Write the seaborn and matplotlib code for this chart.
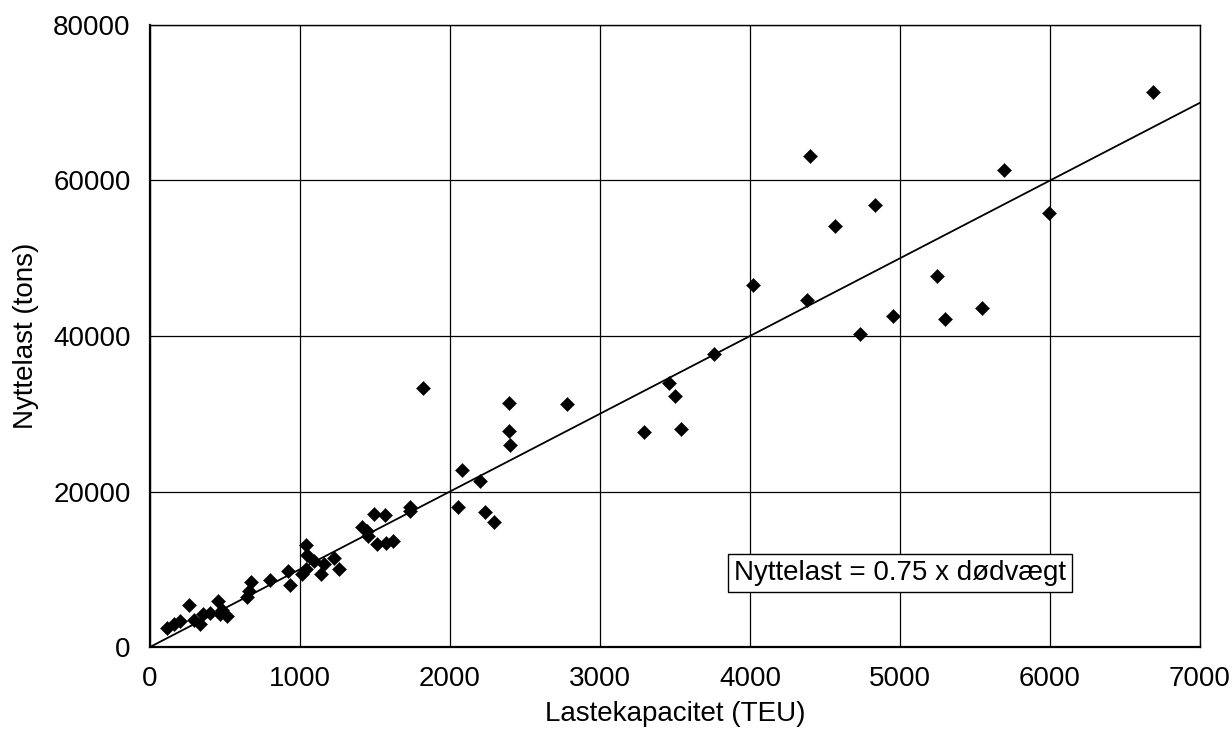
import numpy as np
import pandas as pd
import matplotlib
matplotlib.use("Agg")
import matplotlib.pyplot as plt
import seaborn as sns

# ship data
teu = [110, 160, 200, 260, 290, 330, 355, 400, 455, 465, 480, 515,
       645, 660, 670, 800, 920, 930, 1010, 1040, 1040, 1045, 1090, 1140,
       1160, 1225, 1260, 1410, 1445, 1450, 1490, 1510, 1565, 1570, 1620,
       1730, 1735, 1820, 2055, 2080, 2200, 2230, 2295, 2390, 2390, 2400,
       2780, 3295, 3460, 3500, 3540, 3760, 4020, 4380, 4400, 4565, 4735,
       4830, 4955, 5245, 5300, 5545, 5695, 5995, 6685]
payload = [2400, 2900, 3400, 5400, 3500, 3000, 4300, 4400, 5900, 4300, 4700, 4000,
           6400, 7200, 8400, 8600, 9800, 8000, 9400, 10000, 13100, 11800, 11100, 9400,
           10700, 11500, 10000, 15400, 14900, 14300, 17100, 13200, 17000, 13400, 13600,
           17500, 18000, 33300, 18000, 22800, 21300, 17400, 16100, 31400, 27800, 26000,
           31300, 27600, 34000, 32300, 28000, 37700, 46500, 44600, 63200, 54100, 40300,
           56800, 42600, 47700, 42200, 43600, 61300, 55800, 71400]

# trend line
line_x = [0, 7000]
line_y = [0, 70000]

x_ticks = [0, 1000, 2000, 3000, 4000, 5000, 6000, 7000]
y_ticks = [0, 20000, 40000, 60000, 80000]

df = pd.DataFrame({'teu': teu, 'payload': payload})

sns.set_style("white")
plt.rcParams['font.family'] = ['Liberation Sans', 'DejaVu Sans']
plt.rcParams['text.color'] = 'black'
plt.rcParams['axes.labelcolor'] = 'black'
plt.rcParams['xtick.color'] = 'black'
plt.rcParams['ytick.color'] = 'black'

fig = plt.figure(figsize=(12.32, 7.45), dpi=100)
ax = fig.add_axes([150 / 1232, 98 / 745, 1050 / 1232, 622 / 745])

sns.lineplot(x=line_x, y=line_y, ax=ax, color='black', linewidth=1.3, zorder=3)
sns.scatterplot(data=df, x='teu', y='payload', ax=ax, marker='D', s=52,
                color='black', edgecolor='black', linewidth=0.3, zorder=4)

ax.set_xlim(0, 7000)
ax.set_ylim(0, 80000)
ax.set_xticks(x_ticks)
ax.set_yticks(y_ticks)
ax.grid(True, color='black', linewidth=0.9)
ax.set_axisbelow(True)
for s in ax.spines.values():
    s.set_color('black')
    s.set_linewidth(1.0)
ax.spines['left'].set_linewidth(1.6)
ax.spines['bottom'].set_linewidth(1.6)
ax.tick_params(axis='both', direction='out', length=7, width=1, color='black',
               labelcolor='black', labelsize=20, pad=7)

ax.set_xlabel('Lastekapacitet (TEU)', fontsize=20, labelpad=6)
ax.set_ylabel('Nyttelast (tons)', fontsize=20, labelpad=10)

ax.text(5000, 9500, 'Nyttelast = 0.75 x dødvægt', fontsize=20,
        ha='center', va='center', zorder=5,
        bbox=dict(boxstyle='square,pad=0.22', facecolor='white',
                  edgecolor='black', linewidth=1))

fig.savefig('out.png', dpi=100)
